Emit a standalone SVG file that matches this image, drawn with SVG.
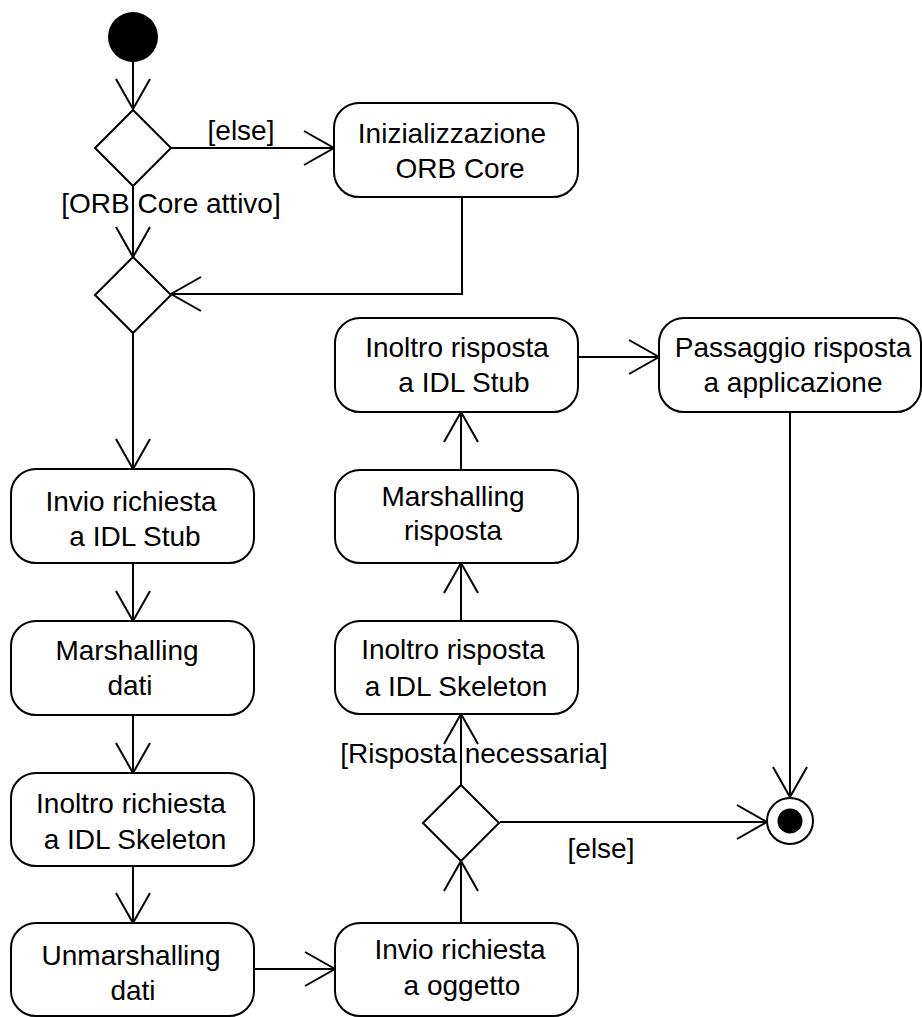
<svg xmlns="http://www.w3.org/2000/svg" width="922" height="1017" viewBox="0 0 922 1017">
<style>
.node rect{fill:#fff;stroke:#000;stroke-width:2}
.dec{fill:#fff;stroke:#000;stroke-width:2}
text{font-family:"Liberation Sans",Arial,sans-serif;font-size:28px;fill:#000;text-anchor:middle}
.edge{fill:none;stroke:#000;stroke-width:2;marker-end:url(#arr)}
</style>
<defs>
<marker id="arr" markerUnits="userSpaceOnUse" viewBox="-1 -1 33 37" refX="30" refY="17" markerWidth="33" markerHeight="37" orient="auto">
<path d="M0,0 L30,17 L0,34" fill="none" stroke="#000" stroke-width="2"/>
</marker>
</defs>
<rect width="922" height="1017" fill="#fff"/>
<g id="connectors">
<path class="edge" d="M133,62 L133,109"/>
<path class="edge" d="M171,148 L334,148"/>
<path class="edge" d="M133,186 L133,257"/>
<path class="edge" d="M462,197 L462,294 L171,294"/>
<path class="edge" d="M133,333 L133,469"/>
<path class="edge" d="M133,563 L133,621"/>
<path class="edge" d="M133,715 L133,773"/>
<path class="edge" d="M133,866 L133,923"/>
<path class="edge" d="M254,969 L335,969"/>
<path class="edge" d="M461,923 L461,861"/>
<path class="edge" d="M461,785 L461,714"/>
<path class="edge" d="M461,621 L461,563"/>
<path class="edge" d="M461,470 L461,412"/>
<path class="edge" d="M578,357 L659,357"/>
<path class="edge" d="M790,412 L790,797"/>
<path class="edge" d="M500,822 L767,822"/>
<text x="241" y="140">[else]</text>
<text x="171" y="213">[ORB Core attivo]</text>
<text x="474" y="763">[Risposta necessaria]</text>
<text x="601" y="858">[else]</text>
</g>
<g id="start"><circle cx="133" cy="37" r="25" fill="#000"/></g>
<g id="decision1"><path class="dec" d="M133,110 L171,148 L133,186 L95,148 Z"/></g>
<g id="decision2"><path class="dec" d="M133,257 L171,295 L133,333 L95,295 Z"/></g>
<g id="decision3"><path class="dec" d="M461,785 L499,823 L461,861 L423,823 Z"/></g>
<g id="end"><circle cx="790" cy="821" r="23" fill="#fff" stroke="#000" stroke-width="2"/><circle cx="790" cy="821" r="12.5" fill="#000"/></g>
<g id="init" class="node"><rect x="334" y="103" width="244" height="94" rx="25"/><text x="452" y="143">Inizializzazione</text><text x="460" y="178">ORB Core</text></g>
<g id="invio" class="node"><rect x="11" y="469" width="243" height="94" rx="25"/><text x="131" y="511">Invio richiesta</text><text x="135" y="546">a IDL Stub</text></g>
<g id="marsh" class="node"><rect x="11" y="621" width="243" height="94" rx="25"/><text x="127" y="660">Marshalling</text><text x="130" y="695">dati</text></g>
<g id="inoltroRich" class="node"><rect x="11" y="773" width="243" height="93" rx="25"/><text x="131" y="813">Inoltro richiesta</text><text x="135" y="849">a IDL Skeleton</text></g>
<g id="unmarsh" class="node"><rect x="11" y="923" width="243" height="93" rx="25"/><text x="131" y="965">Unmarshalling</text><text x="133" y="1000">dati</text></g>
<g id="invioOgg" class="node"><rect x="335" y="923" width="243" height="93" rx="25"/><text x="460" y="959">Invio richiesta</text><text x="462" y="995">a oggetto</text></g>
<g id="inoltroSkel" class="node"><rect x="335" y="621" width="243" height="93" rx="25"/><text x="453" y="659">Inoltro risposta</text><text x="456" y="696">a IDL Skeleton</text></g>
<g id="marshRisp" class="node"><rect x="335" y="470" width="243" height="93" rx="25"/><text x="453" y="506">Marshalling</text><text x="453" y="540">risposta</text></g>
<g id="inoltroStub" class="node"><rect x="335" y="318" width="243" height="94" rx="25"/><text x="457" y="357">Inoltro risposta</text><text x="464" y="392">a IDL Stub</text></g>
<g id="passaggio" class="node"><rect x="659" y="318" width="262" height="94" rx="25"/><text x="793" y="357">Passaggio risposta</text><text x="793" y="392">a applicazione</text></g>
</svg>
